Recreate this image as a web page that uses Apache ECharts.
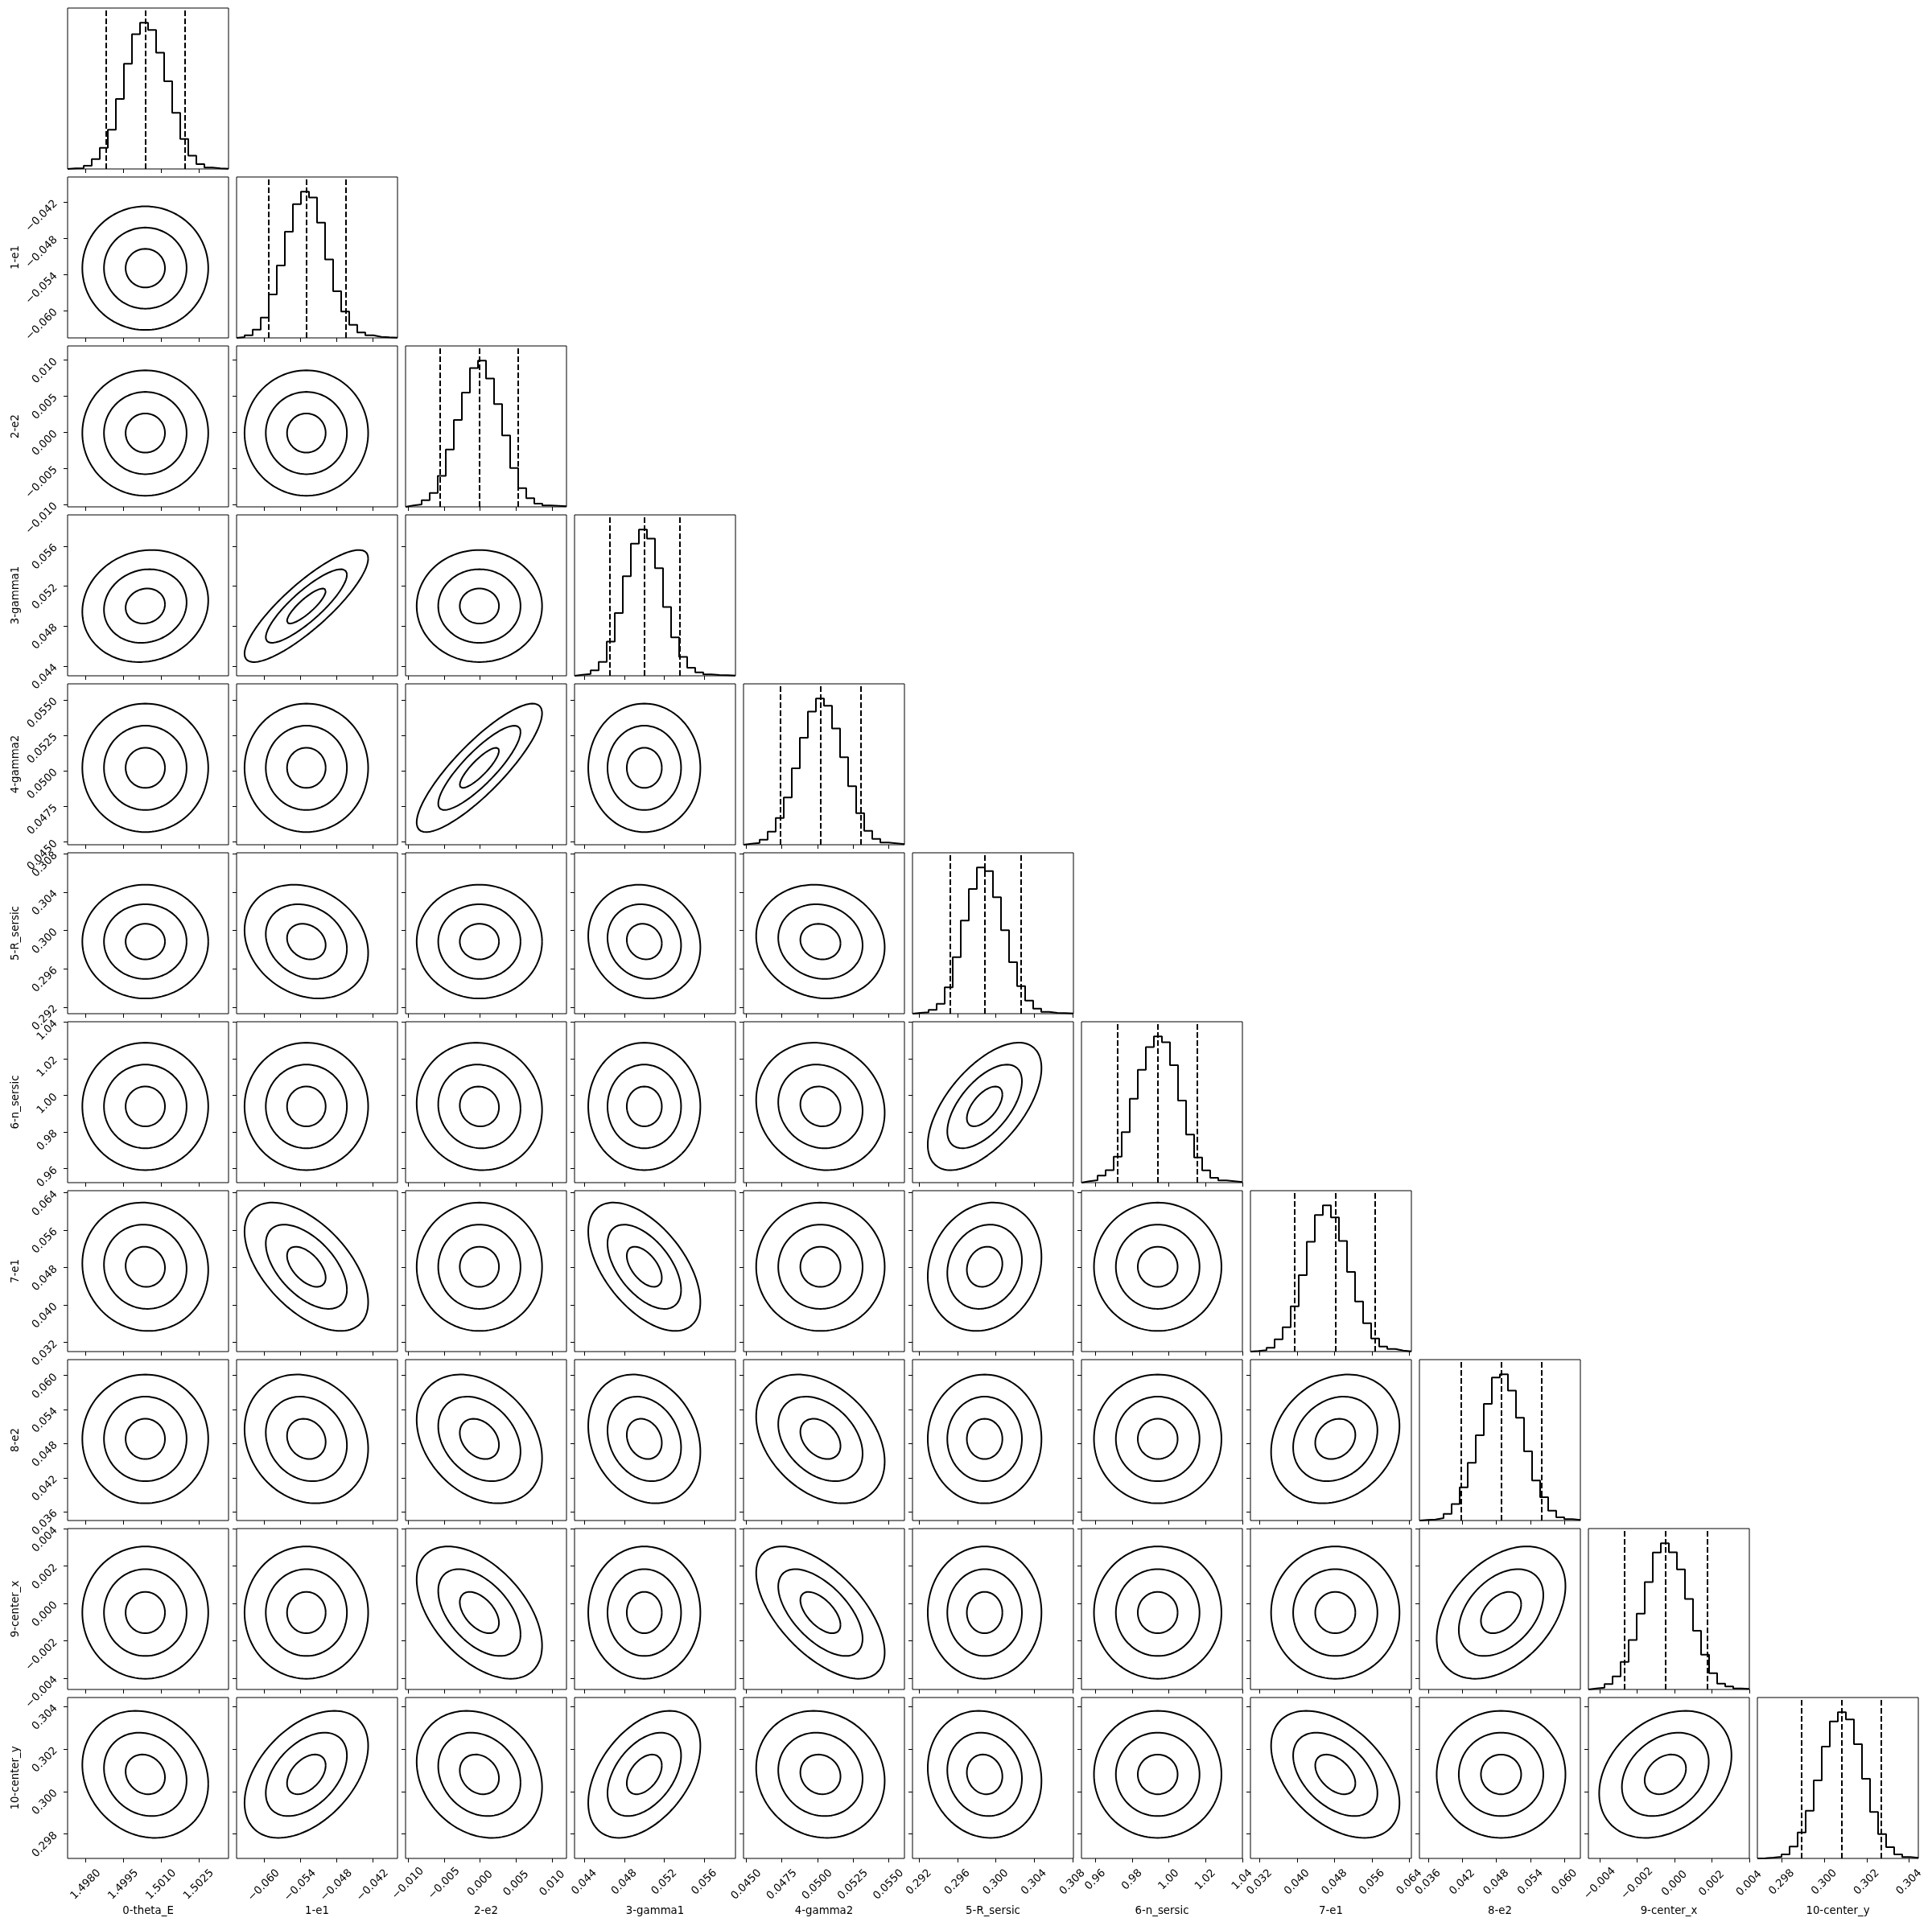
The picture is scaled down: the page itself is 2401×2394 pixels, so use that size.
<!DOCTYPE html>
<html><head><meta charset="utf-8">
<script src="https://cdn.jsdelivr.net/npm/echarts@6/dist/echarts.min.js"></script>
<style>html,body{margin:0;padding:0;background:#fff}#c{width:2401px;height:2394px}</style>
</head><body><div id="c"></div>
<script>
// ---------------- data ----------------
const paramNames = ['0-theta_E','1-e1','2-e2','3-gamma1','4-gamma2','5-R_sersic','6-n_sersic','7-e1','8-e2','9-center_x','10-center_y'];
const rangeMin = [1.49728, -0.06453, -0.01034, 0.04302, 0.04480, 0.29132, 0.95241, 0.03004, 0.03446, -0.00461, 0.29685];
const rangeMax = [1.50368, -0.03787, 0.01196, 0.05912, 0.05612, 0.30810, 1.04010, 0.06443, 0.06279, 0.00401, 0.30443];
const q16 = [1.49881, -0.05924, -0.00561, 0.04651, 0.04739, 0.29521, 0.97202, 0.03945, 0.04174, -0.00269, 0.29892];
const q50 = [1.50037, -0.05297, -0.00011, 0.05000, 0.05021, 0.29884, 0.99395, 0.04817, 0.04883, -0.00049, 0.30081];
const q84 = [1.50194, -0.04644, 0.00525, 0.05352, 0.05304, 0.30262, 1.01544, 0.05660, 0.05591, 0.00174, 0.30266];

const ticksThetaE = [1.4980, 1.4995, 1.5010, 1.5025];
const ticksE1 = [-0.060, -0.054, -0.048, -0.042];
const ticksE2 = [-0.010, -0.005, 0.000, 0.005, 0.010];
const ticksGamma1 = [0.044, 0.048, 0.052, 0.056];
const ticksGamma2 = [0.0450, 0.0475, 0.0500, 0.0525, 0.0550];
const ticksRSersic = [0.292, 0.296, 0.300, 0.304, 0.308];
const ticksNSersic = [0.96, 0.98, 1.00, 1.02, 1.04];
const ticksE1b = [0.032, 0.040, 0.048, 0.056, 0.064];
const ticksE2b = [0.036, 0.042, 0.048, 0.054, 0.060];
const ticksCenterX = [-0.004, -0.002, 0.000, 0.002, 0.004];
const ticksCenterY = [0.298, 0.300, 0.302, 0.304];
const tickDecimals = [4, 3, 3, 3, 4, 3, 2, 3, 3, 3, 3];

// 20-bin histogram counts (relative heights)
const histThetaE  = [2,3,12,37,79,147,262,393,504,547,520,435,328,210,112,50,18,5,2,1];
const histE1      = [3,10,31,76,163,271,398,501,548,526,432,294,175,99,49,20,10,4,2,1];
const histE2      = [5,9,25,52,116,214,325,427,519,547,480,384,267,145,70,32,12,5,4,2];
const histGamma1  = [4,7,20,52,128,235,373,495,548,514,403,258,144,71,30,13,5,3,2,1];
const histGamma2  = [4,7,19,49,100,177,286,400,498,547,520,435,327,219,118,52,22,8,5,2];
const histRSersic = [3,5,14,37,99,212,349,467,548,534,436,313,193,103,49,19,7,3,2,1];
const histNSersic = [5,9,26,47,97,189,314,422,507,547,525,439,307,180,94,46,18,8,5,2];
const histE1b     = [2,5,14,46,91,169,286,411,511,547,502,414,298,187,106,49,19,10,4,1];
const histE2b     = [2,4,9,25,62,124,216,319,436,535,547,486,384,259,150,87,37,12,5,2];
const histCenterX = [4,7,20,49,103,185,284,402,513,548,514,450,339,220,130,61,22,11,4,2];
const histCenterY = [1,3,6,15,44,97,178,292,418,512,547,520,427,298,174,91,42,15,5,2];

// correlation coefficients (row parameter vs. each earlier column parameter)
const corrRow1  = [0.0];
const corrRow2  = [0.0, 0.0];
const corrRow3  = [0.1, 0.85, 0.0];
const corrRow4  = [0.0, 0.0, 0.85, 0.0];
const corrRow5  = [0.0, -0.2, 0.0, -0.1, -0.1];
const corrRow6  = [0.0, 0.0, -0.05, 0.0, -0.1, 0.6];
const corrRow7  = [-0.05, -0.55, 0.0, -0.55, 0.0, 0.15, 0.0];
const corrRow8  = [0.0, -0.15, -0.3, -0.2, -0.35, 0.0, 0.0, 0.2];
const corrRow9  = [0.0, 0.0, -0.5, 0.0, -0.6, 0.0, 0.0, 0.0, 0.4];
const corrRow10 = [-0.15, 0.45, -0.2, 0.45, -0.1, -0.1, 0.0, -0.45, 0.0, 0.3];
const contourLevels = [0.5, 1.05, 1.6]; // in sigma units

// ---------------- assembly ----------------
const tickValues = [ticksThetaE, ticksE1, ticksE2, ticksGamma1, ticksGamma2, ticksRSersic, ticksNSersic, ticksE1b, ticksE2b, ticksCenterX, ticksCenterY];
const histCounts = [histThetaE, histE1, histE2, histGamma1, histGamma2, histRSersic, histNSersic, histE1b, histE2b, histCenterX, histCenterY];
const corrRows = [[], corrRow1, corrRow2, corrRow3, corrRow4, corrRow5, corrRow6, corrRow7, corrRow8, corrRow9, corrRow10];

const N = paramNames.length;
const G_LEFT = 84, G_TOP = 10, CELL = 200, PITCH = 210;
const FAMILY = 'DejaVu Sans';
const FS = 13.33;
const mctx = document.createElement('canvas').getContext('2d');
mctx.font = FS + 'px "DejaVu Sans"';

function fmt(v, d) {
  const s = Math.abs(v).toFixed(d);
  return (v < -1e-12 ? '\u2212' : '') + s;
}
function xLabelMargin(p) {
  let sum = 0;
  tickValues[p].forEach(v => { sum += mctx.measureText(fmt(v, tickDecimals[p])).width; });
  const L = sum / tickValues[p].length;
  return 12.6 + (L + 9.5) * 0.354;
}
const sig = q16.map((v, k) => (q84[k] - v) / 2);

const grids = [], xAxes = [], yAxes = [], series = [];
const textBase = { color: '#000', fontFamily: FAMILY, fontSize: FS };

function addGrid(i, j) {
  grids.push({ left: G_LEFT + PITCH * j, top: G_TOP + PITCH * i, width: CELL, height: CELL,
    show: true, borderColor: '#000', borderWidth: 1, backgroundColor: 'rgba(0,0,0,0)',
    containLabel: false, outerBoundsMode: 'none' });
  return grids.length - 1;
}
function makeXAxis(idx, i, j) {
  const bottom = (i === N - 1);
  const d = tickDecimals[j];
  return {
    type: 'value', gridIndex: idx, min: rangeMin[j], max: rangeMax[j], position: 'bottom',
    axisLine: { show: false, onZero: false }, splitLine: { show: false },
    axisTick: { show: true, length: 5, customValues: tickValues[j], lineStyle: { color: '#000', width: 1 } },
    axisLabel: bottom ? Object.assign({ show: true, customValues: tickValues[j], rotate: 45, align: 'center', verticalAlign: 'middle',
      margin: xLabelMargin(j), formatter: v => fmt(v, d) }, textBase) : { show: false },
    name: bottom ? paramNames[j] : '', nameLocation: 'middle', nameGap: 59,
    nameTextStyle: Object.assign({ align: 'center', verticalAlign: 'top' }, textBase)
  };
}

for (let i = 0; i < N; i++) {
  for (let j = 0; j <= i; j++) {
    const idx = addGrid(i, j);
    xAxes.push(makeXAxis(idx, i, j));
    if (i === j) {
      const counts = histCounts[i];
      const nb = counts.length;
      const edges = [];
      for (let b = 0; b <= nb; b++) edges.push(rangeMin[i] + (rangeMax[i] - rangeMin[i]) * b / nb);
      const data = [[edges[0], 0]];
      for (let b = 0; b < nb; b++) data.push([edges[b], counts[b]]);
      data.push([edges[nb], counts[nb - 1]]);
      data.push([edges[nb], 0]);
      yAxes.push({ type: 'value', gridIndex: idx, min: 0, max: 1.1 * Math.max.apply(null, counts), show: false,
        axisLine: { show: false, onZero: false } });
      series.push({
        type: 'line', xAxisIndex: idx, yAxisIndex: idx, data: data, step: 'end',
        symbol: 'none', showSymbol: false, silent: true, animation: false,
        lineStyle: { color: '#000', width: 2 },
        markLine: { symbol: ['none', 'none'], silent: true, animation: false, precision: 12, label: { show: false },
          lineStyle: { color: '#000', width: 2, type: [7, 3] },
          data: [{ xAxis: q16[i] }, { xAxis: q50[i] }, { xAxis: q84[i] }] }
      });
    } else {
      const d = tickDecimals[i];
      const left = (j === 0);
      yAxes.push({
        type: 'value', gridIndex: idx, min: rangeMin[i], max: rangeMax[i], position: 'left',
        axisLine: { show: false, onZero: false }, splitLine: { show: false },
        axisTick: { show: true, length: 5, customValues: tickValues[i], lineStyle: { color: '#000', width: 1 } },
        axisLabel: left ? Object.assign({ show: true, customValues: tickValues[i], rotate: 45, align: 'right', verticalAlign: 'middle',
          margin: 14.7, formatter: v => fmt(v, d) }, textBase) : { show: false },
        name: left ? paramNames[i] : '', nameLocation: 'middle', nameGap: 58, nameRotate: 90,
        nameTextStyle: Object.assign({ align: 'center', verticalAlign: 'bottom' }, textBase)
      });
      const rho = corrRows[i][j];
      const c = Math.sqrt(1 - rho * rho);
      contourLevels.forEach(r => {
        const pts = [];
        const M = 120;
        for (let k = 0; k <= M; k++) {
          const t = 2 * Math.PI * k / M;
          pts.push([q50[j] + r * sig[j] * Math.cos(t), q50[i] + r * sig[i] * (rho * Math.cos(t) + c * Math.sin(t))]);
        }
        series.push({ type: 'line', xAxisIndex: idx, yAxisIndex: idx, data: pts, symbol: 'none', showSymbol: false,
          silent: true, animation: false, smooth: false, lineStyle: { color: '#000', width: 2 } });
      });
    }
  }
}

const chart = echarts.init(document.getElementById('c'), null, { renderer: 'canvas' });
chart.setOption({ animation: false, backgroundColor: '#fff', grid: grids, xAxis: xAxes, yAxis: yAxes, series: series });
</script>
</body></html>
